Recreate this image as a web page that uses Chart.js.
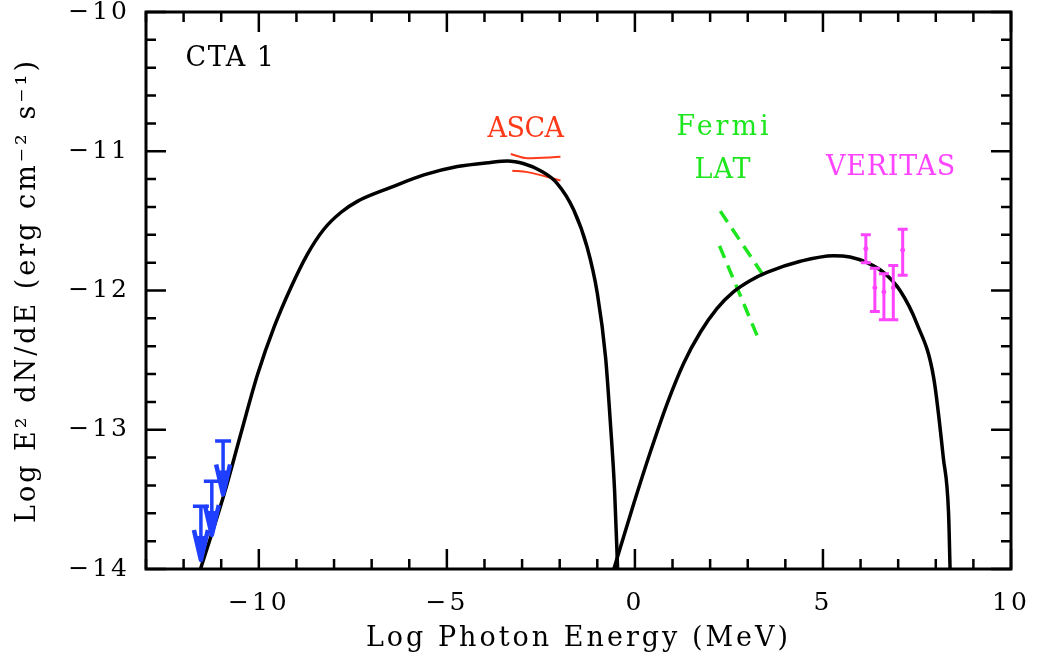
<!DOCTYPE html>
<html lang="en">
<head>
<meta charset="UTF-8">
<title>CTA 1 SED</title>
<script src="https://cdn.jsdelivr.net/npm/chart.js"></script>
<style>
    body { margin: 0; background: #fff; }
    #wrap { width: 1039px; height: 665px; }
</style>
</head>
<body>
<div id="wrap"><canvas id="sed" width="1039" height="665"></canvas></div>
<script>
// synchrotron bump
const syncX = [-11.55, -10.92, -10.48, -10.03, -9.59, -9.15, -8.71, -8.27, -7.82, -7.38, -6.49, -5.61,
               -4.72, -3.84, -3.39, -2.95, -2.51, -2.07, -1.63, -1.27, -1.00, -0.78, -0.65, -0.54, -0.46];
const syncY = [-14.0, -13.46, -13.03, -12.60, -12.26, -11.98, -11.74, -11.56, -11.44, -11.36, -11.26, -11.17,
               -11.11, -11.08, -11.07, -11.09, -11.14, -11.23, -11.42, -11.69, -12.02, -12.48, -12.96, -13.44, -14.0];
// inverse Compton bump
const icX = [-0.56, -0.03, 0.41, 0.86, 1.30, 1.74, 2.18, 2.62, 3.06, 3.51, 4.40, 5.28, 5.72, 6.17, 6.61, 7.05,
             7.50, 7.94, 8.20, 8.34, 8.38];
const icY = [-14.0, -13.53, -13.16, -12.81, -12.52, -12.30, -12.13, -12.01, -11.93, -11.87, -11.79, -11.75, -11.76,
             -11.80, -11.87, -12.0, -12.24, -12.62, -13.20, -13.60, -14.0];

// ASCA bowtie
const ascaUpX = [-3.30, -2.86, -1.98];
const ascaUpY = [-11.02, -11.05, -11.04];
const ascaLoX = [-3.26, -2.86, -1.98];
const ascaLoY = [-11.14, -11.15, -11.21];

// Fermi LAT bowtie (dashed)
const latUpX = [2.27, 3.51];
const latUpY = [-11.43, -11.93];
const latLoX = [2.25, 3.32];
const latLoY = [-11.68, -12.37];

// VERITAS points
const vtsX  = [6.14, 6.38, 6.62, 6.87, 7.12];
const vtsY  = [-11.70, -11.98, -12.01, -11.98, -11.71];
const vtsHi = [-11.60, -11.84, -11.88, -11.82, -11.56];
const vtsLo = [-11.80, -12.15, -12.21, -12.21, -11.89];

// radio upper limits
const ulX = [-11.54, -11.25, -10.95];
const ulY = [-13.55, -13.37, -13.08];
const ulLen = 0.4;

const xMajor = [-10, -5, 0, 5, 10];
const yMajor = [-14, -13, -12, -11, -10];

const RED = '#ff3a1a', GREEN = '#1ee61e', MAGENTA = '#ff44ff', BLUE = '#1f3fff';
const FONT = '"DejaVu Serif", serif';

function pts(xs, ys) {
    return xs.map((x, i) => ({ x: x, y: ys[i] }));
}
function minusFmt(v) {
    return (v < 0 ? '\u2212' : '') + Math.abs(v);
}
// plot labels use a fixed advance, like the original monospaced plot font
function monoText(ctx, text, px, py, advance) {
    ctx.letterSpacing = '0px';
    const w = ctx.measureText(text).width;
    const sp = (advance * text.length - w) / text.length;
    ctx.letterSpacing = sp.toFixed(2) + 'px';
    ctx.fillText(text, px + (ctx.textAlign === 'center' ? sp / 2 : 0), py);
}

const decor = {
    id: 'decor',
    beforeDraw(chart) {
        chart.ctx.letterSpacing = '3px';
    },
    afterDatasetsDraw(chart) {
        const { ctx, scales: { x, y } } = chart;
        ctx.save();
        // VERITAS error bars
        ctx.strokeStyle = MAGENTA;
        ctx.lineWidth = 3;
        vtsX.forEach((v, i) => {
            const px = x.getPixelForValue(v);
            const hi = y.getPixelForValue(vtsHi[i]);
            const lo = y.getPixelForValue(vtsLo[i]);
            ctx.beginPath();
            ctx.moveTo(px, hi); ctx.lineTo(px, lo);
            ctx.moveTo(px - 5, hi); ctx.lineTo(px + 5, hi);
            ctx.moveTo(px - 5, lo); ctx.lineTo(px + 5, lo);
            ctx.stroke();
        });
        // upper limit arrows
        ctx.strokeStyle = BLUE;
        ctx.fillStyle = BLUE;
        ulX.forEach((v, i) => {
            const px = x.getPixelForValue(v);
            const top = y.getPixelForValue(ulY[i]);
            const tip = y.getPixelForValue(ulY[i] - ulLen);
            ctx.lineWidth = 3.5;
            ctx.beginPath();
            ctx.moveTo(px - 8, top); ctx.lineTo(px + 8, top);
            ctx.moveTo(px, top); ctx.lineTo(px, tip - 4);
            ctx.stroke();
            ctx.lineWidth = 4.5;
            ctx.lineJoin = 'round';
            ctx.beginPath();
            ctx.moveTo(px - 7, tip - 32); ctx.lineTo(px, tip - 2); ctx.lineTo(px + 7, tip - 32);
            ctx.stroke();
            ctx.beginPath();
            ctx.moveTo(px - 4, tip - 26); ctx.lineTo(px, tip); ctx.lineTo(px + 4, tip - 26);
            ctx.closePath();
            ctx.fill();
        });
        ctx.restore();
    },
    afterDraw(chart) {
        const { ctx, chartArea: a, scales: { x, y } } = chart;
        ctx.save();
        ctx.strokeStyle = '#000';
        ctx.lineWidth = 2.5;
        // ticks on all four sides
        for (let v = -13; v <= 10; v++) {
            const px = x.getPixelForValue(v);
            const len = v % 5 === 0 ? 20 : 10;
            ctx.beginPath();
            ctx.moveTo(px, a.bottom); ctx.lineTo(px, a.bottom - len);
            ctx.moveTo(px, a.top); ctx.lineTo(px, a.top + len);
            ctx.stroke();
        }
        for (let k = 0; k <= 20; k++) {
            const py = y.getPixelForValue(-14 + k * 0.2);
            const len = k % 5 === 0 ? 20 : 10;
            ctx.beginPath();
            ctx.moveTo(a.left, py); ctx.lineTo(a.left + len, py);
            ctx.moveTo(a.right, py); ctx.lineTo(a.right - len, py);
            ctx.stroke();
        }
        ctx.lineWidth = 3;
        ctx.strokeRect(a.left, a.top, a.right - a.left, a.bottom - a.top);

        // labels
        ctx.font = '27px ' + FONT;
        ctx.textBaseline = 'middle';
        ctx.textAlign = 'left';
        ctx.fillStyle = '#000';
        monoText(ctx, 'CTA 1', x.getPixelForValue(-11.95), y.getPixelForValue(-10.34), 18);
        ctx.textAlign = 'center';
        ctx.fillStyle = RED;
        monoText(ctx, 'ASCA', x.getPixelForValue(-2.9), y.getPixelForValue(-10.85), 19);
        ctx.fillStyle = GREEN;
        monoText(ctx, 'Fermi', x.getPixelForValue(2.33), y.getPixelForValue(-10.83), 19);
        monoText(ctx, 'LAT', x.getPixelForValue(2.33), y.getPixelForValue(-11.14), 19);
        ctx.fillStyle = MAGENTA;
        monoText(ctx, 'VERITAS', x.getPixelForValue(6.8), y.getPixelForValue(-11.12), 18.6);
        ctx.restore();
    }
};

const lineDs = (data, color, width, dash) => ({
    data: data,
    showLine: true,
    borderColor: color,
    borderWidth: width,
    borderDash: dash || [],
    pointRadius: 0,
    cubicInterpolationMode: 'monotone',
    fill: false
});

new Chart(document.getElementById('sed'), {
    type: 'scatter',
    data: {
        datasets: [
            lineDs(pts(syncX, syncY), '#000', 3.5),
            lineDs(pts(icX, icY), '#000', 3.5),
            lineDs(pts(ascaUpX, ascaUpY), RED, 2),
            lineDs(pts(ascaLoX, ascaLoY), RED, 2),
            lineDs(pts(latUpX, latUpY), GREEN, 3.5, [13, 8]),
            lineDs(pts(latLoX, latLoY), GREEN, 3.5, [13, 8]),
            {
                data: pts(vtsX, vtsY),
                pointRadius: 2,
                pointBackgroundColor: MAGENTA,
                pointBorderColor: MAGENTA,
                showLine: false
            }
        ]
    },
    options: {
        responsive: false,
        animation: false,
        layout: { padding: { top: 12, right: 28, left: 0, bottom: 0 } },
        plugins: {
            legend: { display: false },
            tooltip: { enabled: false }
        },
        scales: {
            x: {
                type: 'linear',
                min: -13,
                max: 10,
                grid: { display: false, drawTicks: false },
                border: { display: false },
                afterBuildTicks: s => { s.ticks = xMajor.map(v => ({ value: v })); },
                afterFit: s => {
                    s.height = 96;
                    s.paddingLeft = 0; s.paddingRight = 0;
                },
                ticks: {
                    padding: 19,
                    color: '#000',
                    font: { family: FONT, size: 25 },
                    callback: minusFmt
                },
                title: {
                    display: true,
                    text: 'Log Photon Energy (MeV)',
                    color: '#000',
                    font: { family: FONT, size: 27 },
                    padding: { top: 10, bottom: 10 }
                }
            },
            y: {
                type: 'linear',
                min: -14,
                max: -10,
                grid: { display: false, drawTicks: false },
                border: { display: false },
                afterBuildTicks: s => { s.ticks = yMajor.map(v => ({ value: v })); },
                afterFit: s => {
                    s.width = 146;
                    s.paddingTop = 0; s.paddingBottom = 0;
                },
                ticks: {
                    padding: 16,
                    color: '#000',
                    font: { family: FONT, size: 25 },
                    callback: minusFmt
                },
                title: {
                    display: true,
                    text: 'Log E\u00b2 dN/dE (erg cm\u207b\u00b2 s\u207b\u00b9)',
                    color: '#000',
                    font: { family: FONT, size: 27 },
                    padding: { top: 12, bottom: 12 }
                }
            }
        }
    },
    plugins: [decor]
});
</script>
</body>
</html>
